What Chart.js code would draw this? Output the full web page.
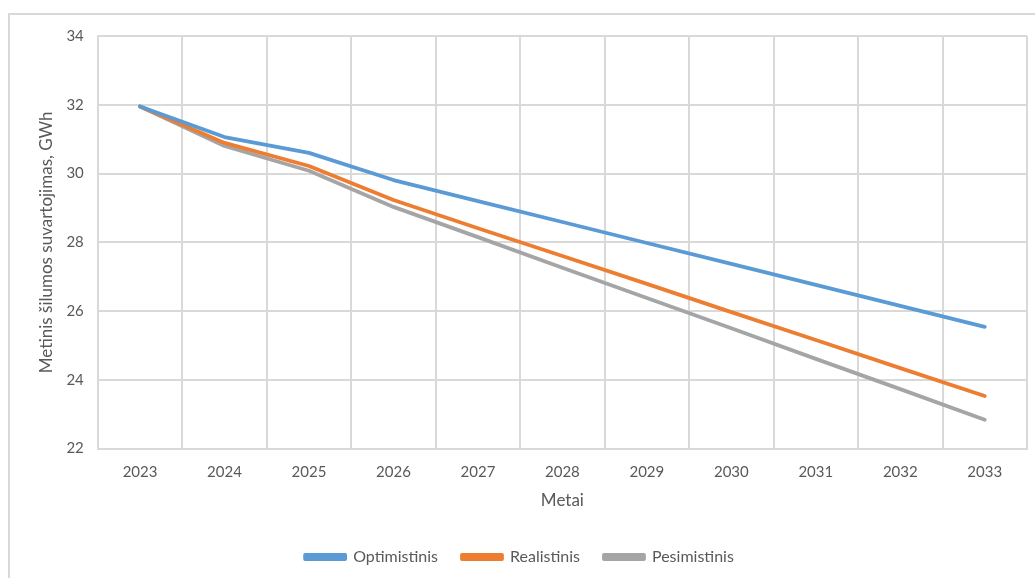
<!DOCTYPE html>
<html>
<head>
<meta charset="utf-8">
<script src="https://cdn.jsdelivr.net/npm/chart.js@4.4.1/dist/chart.umd.min.js"></script>
<style>
  html, body { margin: 0; padding: 0; background: #fff; }
  #wrap { position: relative; width: 1035px; height: 578px; overflow: hidden; }
  #frame { position: absolute; left: 8px; top: 13px; width: 1100px; height: 700px;
           border: 2px solid #d9d9d9; box-sizing: border-box; }
  #c { position: absolute; left: 0; top: 0; }
</style>
</head>
<body>
<div id="wrap">
  <div id="frame"></div>
  <canvas id="c" width="1035" height="578"></canvas>
</div>
<script>
// Annual heat consumption forecast, GWh
const years = ['2023','2024','2025','2026','2027','2028','2029','2030','2031','2032','2033'];
const optimistinis = [31.95, 31.06, 30.60, 29.81, 29.20, 28.59, 27.98, 27.37, 26.76, 26.15, 25.54];
const realistinis  = [31.95, 30.89, 30.22, 29.23, 28.41, 27.60, 26.79, 25.97, 25.16, 24.34, 23.53];
const pesimistinis = [31.95, 30.80, 30.08, 29.03, 28.15, 27.26, 26.38, 25.50, 24.61, 23.73, 22.84];
const yTicks = [22, 24, 26, 28, 30, 32, 34];

const FONT = 'Lato, "Open Sans", sans-serif';
const TXT = '#595959';
const GRID = '#d9d9d9';

function series(label, data, color) {
  return {
    label, data,
    borderColor: color, backgroundColor: color,
    borderWidth: 3.8, pointRadius: 0, tension: 0,
    borderCapStyle: 'round', borderJoinStyle: 'round'
  };
}

new Chart(document.getElementById('c'), {
  type: 'line',
  data: {
    labels: years,
    datasets: [
      series('Optimistinis', optimistinis, '#5b9bd5'),
      series('Realistinis', realistinis, '#ed7d31'),
      series('Pesimistinis', pesimistinis, '#a5a5a5')
    ]
  },
  options: {
    responsive: false,
    animation: false,
    layout: { padding: { left: 12, right: 8, top: 36, bottom: 3 } },
    plugins: {
      tooltip: { enabled: false },
      legend: {
        position: 'bottom',
        labels: {
          color: TXT, font: { family: FONT, size: 16 },
          boxWidth: 40, boxHeight: 4, padding: 24
        }
      }
    },
    scales: {
      x: {
        offset: true,
        grid: { offset: true, color: GRID, lineWidth: 2, drawTicks: false },
        border: { color: GRID, width: 2 },
        ticks: { color: TXT, font: { family: FONT, size: 15 }, padding: 15, maxRotation: 0 },
        title: { display: true, text: 'Metai', color: TXT, font: { family: FONT, size: 17 }, padding: { top: -6, bottom: 14 } }
      },
      y: {
        min: 22, max: 34,
        afterBuildTicks: s => { s.ticks = yTicks.map(v => ({ value: v })); },
        grid: { color: GRID, lineWidth: 2, drawTicks: false },
        border: { color: GRID, width: 2 },
        ticks: { color: TXT, font: { family: FONT, size: 15 }, padding: 14 },
        title: { display: true, text: 'Metinis šilumos suvartojimas, GWh', color: TXT, font: { family: FONT, size: 17 }, padding: { top: 24, bottom: -4 } }
      }
    }
  }
});
</script>
</body>
</html>
